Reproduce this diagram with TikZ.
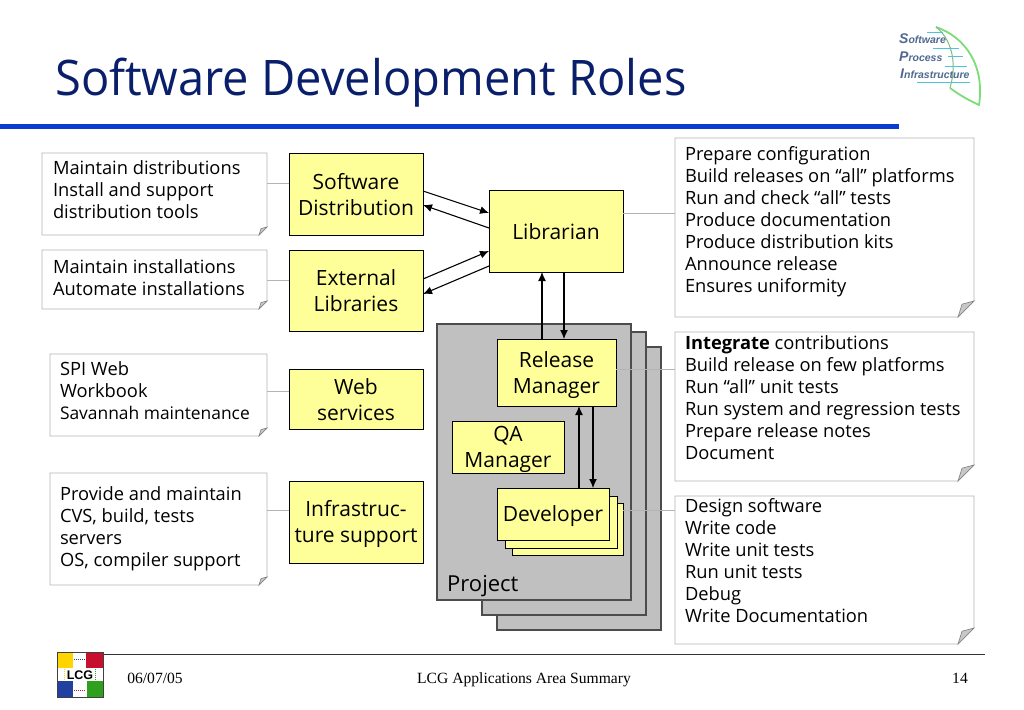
\documentclass[tikz,border=0pt]{standalone}
\usepackage{fontspec}
\setmainfont{Open Sans}
\newfontfamily\serifrm{Liberation Serif}
\newfontfamily\heros{Liberation Sans}
\newfontface\titleface[FakeStretch=0.96]{Open Sans}
\usetikzlibrary{arrows.meta}
\definecolor{navy}{HTML}{0A1F6B}
\definecolor{barblue}{HTML}{0A3CD2}
\definecolor{boxyellow}{HTML}{FFFF99}
\definecolor{projgrey}{HTML}{C0C0C0}
\definecolor{edge}{HTML}{B4B4B4}
\definecolor{foldgrey}{HTML}{C8C8C8}
\definecolor{spitext}{HTML}{4F6A90}
\definecolor{spicyan}{HTML}{4CC4DC}
\definecolor{spigreen}{HTML}{7CDC78}
\definecolor{lcgy}{HTML}{FFD400}
\definecolor{lcgr}{HTML}{C8102E}
\definecolor{lcgb}{HTML}{2140A0}
\definecolor{lcgg}{HTML}{2FA01E}
\tikzset{
  px/.style={x=1pt,y=-1pt},
  ybox/.style={draw=black,fill=boxyellow,line width=1pt,inner sep=0pt,outer sep=0pt,align=center,font=\fontsize{21}{26}\selectfont},
  pbox/.style={draw=black!70,fill=projgrey,line width=1.4pt,inner sep=0pt,outer sep=0pt},
  nbox/.style={inner sep=0pt,outer sep=0pt},
  ntext/.style={inner sep=0pt,outer sep=0pt,anchor=base west},
  link/.style={draw=edge,line width=.8pt},
  flow/.style={draw=black,line width=1.1pt,-{Latex[length=9pt,width=8pt]}},
  foot/.style={inner sep=0pt,anchor=base,font=\serifrm\fontsize{15.6}{16}\selectfont},
  spil/.style={inner sep=0pt,anchor=base west,text=spitext,font=\heros\bfseries\itshape\fontsize{14}{14}\selectfont},
}
\newcommand{\ybx}[6]{\node[ybox,minimum width=#4pt-#2pt,minimum height=#5pt-#3pt] (#1) at ({(#2+#4)/2},{(#3+#5)/2}) {\rule{0pt}{20.5pt}#6\rule[-4.5pt]{0pt}{4.5pt}};}
\newcommand{\pbx}[5]{\node[pbox,minimum width=#4pt-#2pt,minimum height=#5pt-#3pt] (#1) at ({(#2+#4)/2},{(#3+#5)/2}) {};}
\newcommand{\nbx}[9]{%
  \node[nbox,minimum width=#4pt-#2pt,minimum height=#5pt-#3pt] (#1) at ({(#2+#4)/2},{(#3+#5)/2}) {};
  \draw[edge,line width=.8pt,fill=white] (#2,#3) -- (#4,#3) -- (#4,#5-#8) -- (#4-#8,#5) -- (#2,#5) -- cycle;
  \draw[edge!70!black,line width=.6pt,fill=foldgrey] (#4-#8,#5) -- (#4-#8*0.75,#5-#8*0.8) -- (#4,#5-#8) -- cycle;
  \node[ntext] (#1t) at (#6,#7) {\parbox[t]{295pt}{\raggedright\fontsize{18.3}{22}\selectfont #9}};}
\begin{document}
\begin{tikzpicture}[px]
\useasboundingbox (0,0) rectangle (1024,709);
\fill[white] (0,0) rectangle (1024,709);
% title
\node[inner sep=0pt,anchor=base west,text=navy,font=\titleface\fontsize{49}{50}\selectfont] (title) at (55,95) {Software Development Roles};
\fill[barblue] (0,124) rectangle (899,129);
% SPI logo
\draw[spigreen,line width=1.8pt,line join=round] (936,27) .. controls (965,37) and (985,65) .. (979,105) .. controls (968,100) and (958,94) .. (950,88);
\draw[spigreen!70!gray,line width=1pt] (936,27) .. controls (950,38) and (958,60) .. (950,88);
\draw[spicyan,line width=1pt] (927,33)--(943,33) (933,49)--(959,49) (948,57)--(963,57) (945,66)--(967,66) (917,82)--(970,82);
\node[spil] (spis) at (899,44) {S\fontsize{10.5}{10}\selectfont oftware};
\node[spil] (spip) at (899,62) {P\fontsize{10.5}{10}\selectfont rocess};
\node[spil] (spii) at (900,78) {I\fontsize{10.5}{10}\selectfont nfrastructure};
% project stack
\pbx{pc}{497}{347}{661}{630}
\pbx{pb}{482}{332}{646}{615}
\pbx{pa}{437}{324}{631}{600}
\node[inner sep=0pt,anchor=base west,font=\fontsize{22}{26}\selectfont] (proj) at (447,591) {Project};
% yellow boxes
\ybx{sd}{289}{153}{423}{235}{Software\\Distribution}
\ybx{el}{289}{250}{423}{331}{External\\Libraries}
\ybx{web}{289}{369}{423}{429}{Web\\services}
\ybx{inf}{289}{481}{423}{563}{Infrastruc-\\ture support}
\ybx{lib}{489}{190}{623}{272}{Librarian}
\ybx{rel}{497}{339}{616}{406}{Release\\Manager}
\ybx{qa}{452}{421}{564}{473}{QA\\Manager}
\ybx{dev3}{512}{503}{623}{555}{}
\ybx{dev2}{505}{496}{617}{548}{}
\ybx{dev}{497}{488}{609}{540}{Developer}
% notes
\nbx{na}{42}{153}{267}{235}{53}{174}{8}{Maintain distributions\\Install and support\\distribution tools}
\nbx{nb}{42}{250}{267}{309}{53}{273}{8}{Maintain installations\\Automate installations}
\nbx{nc}{50}{354}{267}{436}{60}{375}{8}{SPI Web\\Workbook\\{\fontsize{17.4}{22}\selectfont Savannah maintenance}}
\nbx{nd}{50}{473}{267}{585}{60}{500}{8}{Provide and maintain\\CVS, build, tests\\servers\\OS, compiler support}
\nbx{ne}{675}{138}{974}{317}{685}{160}{16}{Prepare configuration\\Build releases on “all” platforms\\Run and check “all” tests\\Produce documentation\\Produce distribution kits\\Announce release\\Ensures uniformity}
\nbx{nf}{675}{332}{974}{481}{685}{349}{16}{\textbf{Integrate} contributions\\Build release on few platforms\\Run “all” unit tests\\Run system and regression tests\\Prepare release notes\\Document}
\nbx{ng}{675}{496}{974}{644}{685}{512}{16}{Design software\\Write code\\Write unit tests\\Run unit tests\\Debug\\Write Documentation}
% grey links
\draw[link] (na.east |- 0,183) -- (sd.west |- 0,183);
\draw[link] (nb.east |- 0,280) -- (el.west |- 0,280);
\draw[link] (nc.east |- 0,391) -- (web.west |- 0,391);
\draw[link] (nd.east |- 0,510) -- (inf.west |- 0,510);
\draw[link] (lib.east |- 0,213) -- (ne.west |- 0,213);
\draw[link] (rel.east |- 0,369) -- (nf.west |- 0,369);
\draw[link] (dev3.east |- 0,510) -- (ng.west |- 0,510);
% flows
\draw[flow] (sd.east |- 0,191) -- (lib.west |- 0,213);
\draw[flow] (lib.west |- 0,228) -- (sd.east |- 0,205);
\draw[flow] (el.east |- 0,279) -- (lib.west |- 0,251);
\draw[flow] (lib.west |- 0,266) -- (el.east |- 0,294);
\draw[flow] (rel.north -| 542,0) -- (lib.south -| 542,0);
\draw[flow] (lib.south -| 564,0) -- (rel.north -| 564,0);
\draw[flow] (dev.north -| 579,0) -- (rel.south -| 579,0);
\draw[flow] (rel.south -| 593,0) -- (dev.north -| 593,0);
% footer
\draw[black!80,line width=1pt] (57,654) -- (985,654);
\node[foot] (fdate) at (155,683) {06/07/05};
\node[foot] (fmid) at (524,683) {LCG Applications Area Summary};
\node[foot] (fnum) at (960,683) {14};
% LCG logo
\fill[white] (57,652) rectangle (103,697);
\fill[lcgy] (57,652) rectangle (73,668);
\fill[lcgr] (86,652) rectangle (103,668);
\fill[lcgb] (57,681) rectangle (73,697);
\fill[lcgg] (87,681) rectangle (103,697);
\draw[black!75,line width=.8pt] (57,652) rectangle (103,697);
\draw[lcgb,line width=1pt,densely dotted] (74,659) -- (86,659);
\draw[lcgr,line width=1pt,densely dotted] (74,690) -- (86,690);
\draw[lcgy,line width=1pt,densely dotted] (64,669) -- (64,680);
\draw[lcgg,line width=1pt,densely dotted] (95,669) -- (95,680);
\node[inner sep=0pt,anchor=base,font=\heros\bfseries\fontsize{12.5}{12}\selectfont] (lcg) at (80,679.5) {LCG};
\end{tikzpicture}
\end{document}
